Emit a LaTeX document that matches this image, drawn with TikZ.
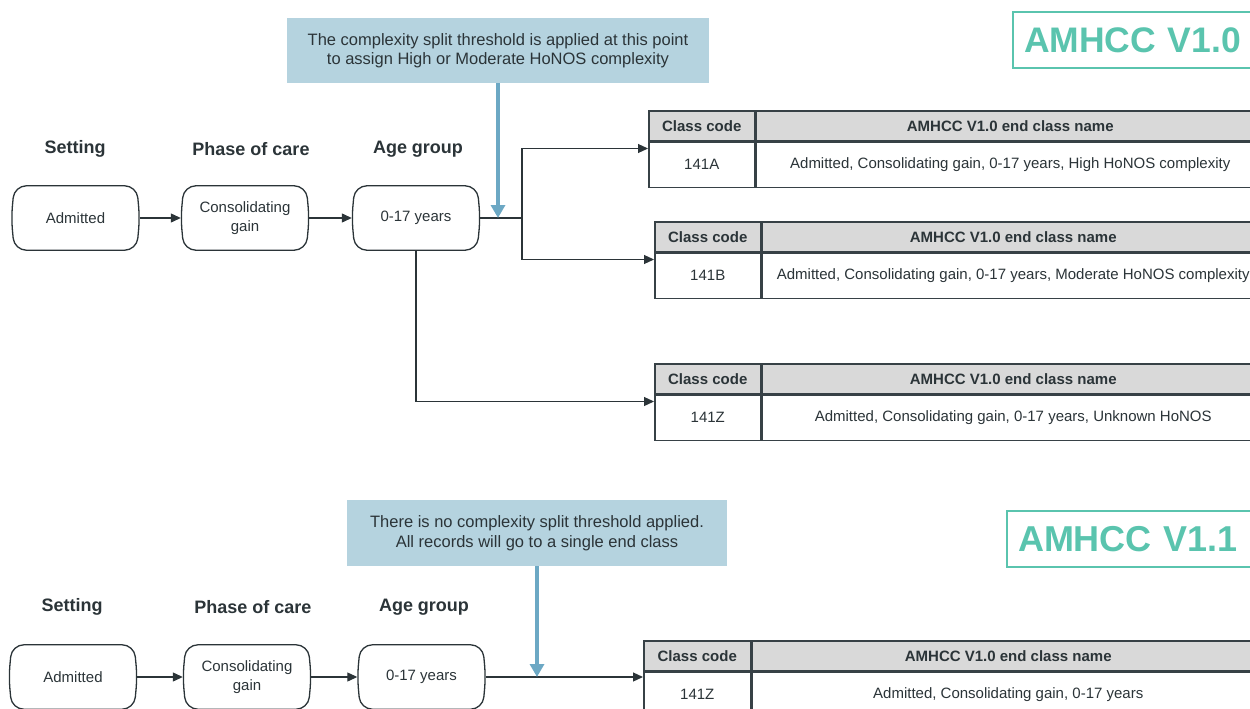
\documentclass[tikz,border=0pt]{standalone}
\usepackage{fontspec}
\setmainfont{Liberation Sans}
\usetikzlibrary{arrows.meta,calc}
\definecolor{ink}{RGB}{43,52,56}
\definecolor{tabline}{RGB}{55,65,70}
\definecolor{hdrfill}{RGB}{217,217,217}
\definecolor{notefill}{RGB}{181,211,223}
\definecolor{arrowblue}{RGB}{108,168,196}
\definecolor{tealv}{RGB}{90,196,174}
\newcommand\stagebox[4]{%
  \node[stagetext] (#1) at (#2,-#3) {#4};
  \draw[stageline, rounded corners=12pt] ([xshift=3pt]#1.north west) -- ([xshift=-3pt]#1.north east)
    -- (#1.east) -- ([xshift=-3pt]#1.south east)
    -- ([xshift=3pt]#1.south west) -- (#1.west) -- cycle;
}
\newcommand\classtable[6]{%
  \node[hcell, minimum width=#4pt, minimum height=30pt] (#1h1) at (#2,-#3) {Class code};
  \node[hcell, minimum width={1262-#2-#4}, minimum height=30pt] (#1h2) at (#1h1.north east) {AMHCC V1.0 end class name};
  \node[dcell, minimum width=#4pt, minimum height=45pt] (#1c1) at (#1h1.south west) {#5};
  \node[dcell, minimum width={1262-#2-#4}, minimum height=45pt] (#1c2) at (#1h1.south east) {#6};
}
\begin{document}
\begin{tikzpicture}[x=1pt,y=1pt,
  stagetext/.style={minimum width=128pt, minimum height=64pt, inner sep=0pt, align=center,
    font=\fontsize{15}{19}\selectfont, text=ink},
  stageline/.style={draw=ink, line width=1.3pt},
  heading/.style={font=\bfseries\fontsize{18}{22}\selectfont, text=ink, inner sep=0pt},
  note/.style={fill=notefill, text=ink, font=\fontsize{16.5}{19.5}\selectfont, align=center, inner sep=0pt},
  hcell/.style={draw=tabline, line width=1.5pt, fill=hdrfill, font=\bfseries\fontsize{15}{18}\selectfont,
    text=ink, inner sep=0pt, anchor=north west},
  dcell/.style={draw=tabline, line width=1.5pt, fill=white, font=\fontsize{15}{18}\selectfont,
    text=ink, inner sep=0pt, anchor=north west},
  conn/.style={draw=ink, line width=1.2pt, -{Triangle[width=9pt,length=10pt]}},
  plainline/.style={draw=ink, line width=1.2pt},
  bluearrow/.style={draw=arrowblue, line width=4.5pt, -{Triangle[width=14pt,length=13pt]}},
  versionbox/.style={draw=tealv, line width=2pt, text=tealv, font=\bfseries\fontsize{35.5}{40}\selectfont,
    anchor=north west, text width=226pt, align=left, inner xsep=11pt, inner ysep=0pt, minimum height=56pt}
]
\useasboundingbox (0,0) rectangle (1250,-709);
\clip (0,0) rectangle (1250,-709);

% ---------- AMHCC V1.0 ----------
\node[versionbox] (v10) at (1012,-11) {AMHCC V1.0};
\node[note, minimum width=422pt, minimum height=65pt] (note1) at (498,-50.5)
  {The complexity split threshold is applied at this point\\to assign High or Moderate HoNOS complexity};

\node[heading] (hs1) at (75,-149) {Setting};
\node[heading] (hp1) at (251,-149) {Phase of care};
\node[heading] (ha1) at (418,-149) {Age group};

\stagebox{adm1}{75.5}{218}{Admitted}
\stagebox{pc1}{245}{218}{Consolidating\\gain}
\stagebox{ag1}{416}{218}{0-17 years}

\classtable{ta}{648}{110}{106}{141A}{Admitted, Consolidating gain, 0-17 years, High HoNOS complexity}
\classtable{tb}{654}{221}{106}{141B}{Admitted, Consolidating gain, 0-17 years, Moderate HoNOS complexity}
\classtable{tc}{654}{363}{106}{141Z}{Admitted, Consolidating gain, 0-17 years, Unknown HoNOS}

\draw[conn] (adm1) -- (pc1);
\draw[conn] (pc1) -- (ag1);
\coordinate (split1) at (522,-218);
\draw[plainline] (ag1.east) -- (split1);
\draw[conn] (split1) |- ($(tac1.north west)+(0,-7)$);
\draw[conn] (split1) |- ($(tbc1.north west)+(0,-7)$);
\draw[conn] (ag1.south) |- ($(tcc1.north west)+(0,-7)$);
\draw[bluearrow] (note1.south) -- (note1.south |- split1);

% ---------- AMHCC V1.1 ----------
\node[versionbox, font=\bfseries\fontsize{36}{40}\selectfont] (v11) at (1006,-510) {AMHCC V1.1};
\node[note, minimum width=380pt, minimum height=66pt] (note2) at (537,-533)
  {There is no complexity split threshold applied.\\All records will go to a single end class};

\node[heading] (hs2) at (72,-607) {Setting};
\node[heading] (hp2) at (253,-607) {Phase of care};
\node[heading] (ha2) at (424,-607) {Age group};

\stagebox{adm2}{73}{677}{Admitted}
\stagebox{pc2}{247}{677}{Consolidating\\gain}
\stagebox{ag2}{421.5}{677}{0-17 years}

\classtable{td}{643}{640}{107}{141Z}{Admitted, Consolidating gain, 0-17 years}

\draw[conn] (adm2) -- (pc2);
\draw[conn] (pc2) -- (ag2);
\draw[conn] (ag2.east) -- (ag2.east -| tdc1.west);
\draw[bluearrow] (note2.south) -- (note2.south |- ag2.east);
\end{tikzpicture}
\end{document}
